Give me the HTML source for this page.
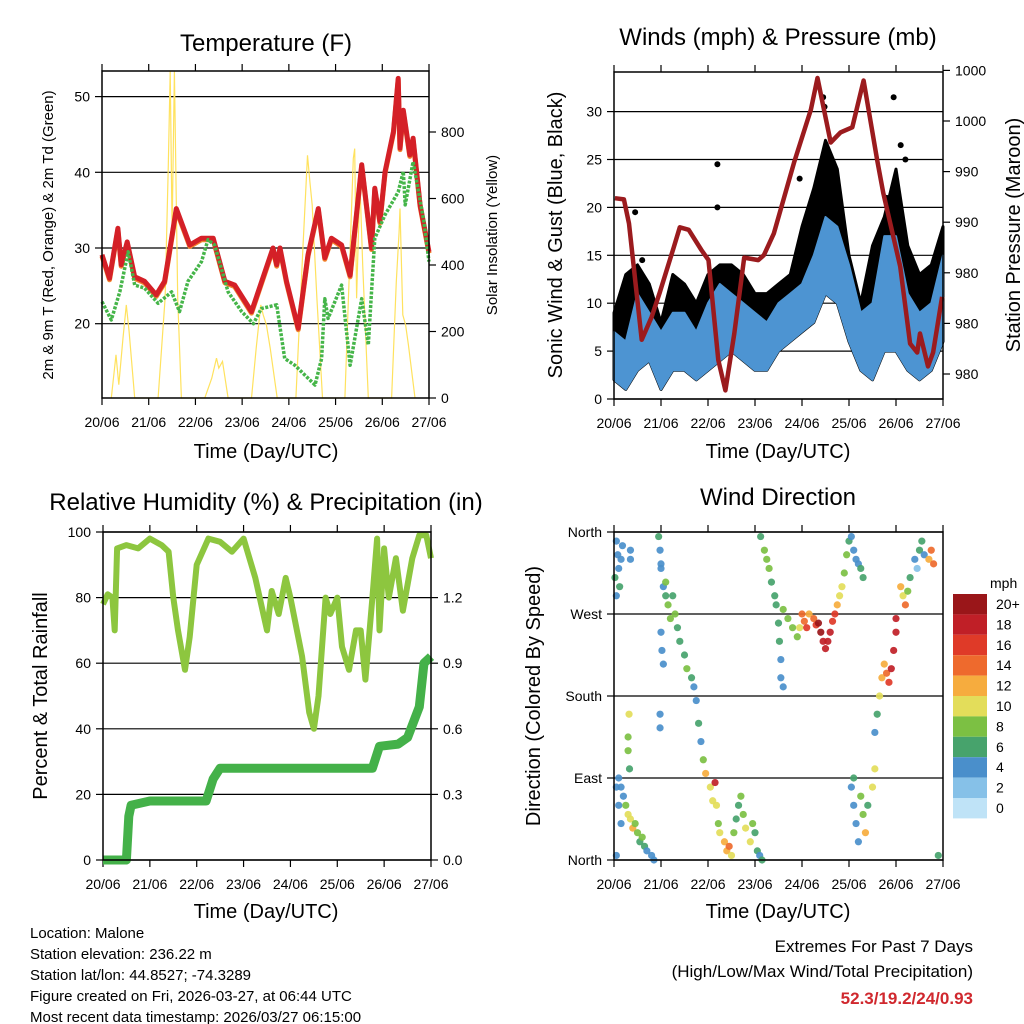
<!DOCTYPE html>
<html><head><meta charset="utf-8"><style>
html,body{margin:0;padding:0;background:#fff;}
svg{display:block;font-family:"Liberation Sans",Arial,sans-serif;}
</style></head><body>
<svg id="svg" width="1024" height="1024" viewBox="0 0 1024 1024" xmlns="http://www.w3.org/2000/svg">
<rect width="1024" height="1024" fill="#fff"/>
<text x="266" y="51" font-size="24" text-anchor="middle">Temperature (F)</text>
<text x="778" y="45" font-size="24" text-anchor="middle">Winds (mph) &amp; Pressure (mb)</text>
<text x="266" y="510" font-size="24" text-anchor="middle">Relative Humidity (%) &amp; Precipitation (in)</text>
<text x="778" y="505" font-size="24" text-anchor="middle">Wind Direction</text>
<text x="266" y="458" font-size="20" text-anchor="middle">Time (Day/UTC)</text>
<text x="778" y="458" font-size="20" text-anchor="middle">Time (Day/UTC)</text>
<text x="266" y="918" font-size="20" text-anchor="middle">Time (Day/UTC)</text>
<text x="778" y="918" font-size="20" text-anchor="middle">Time (Day/UTC)</text>
<text transform="translate(53,235) rotate(-90)" font-size="15" text-anchor="middle">2m &amp; 9m T (Red, Orange) &amp; 2m Td (Green)</text>
<text transform="translate(497,235) rotate(-90)" font-size="15" text-anchor="middle">Solar Insolation (Yellow)</text>
<text transform="translate(562,235) rotate(-90)" font-size="20" text-anchor="middle">Sonic Wind &amp; Gust (Blue, Black)</text>
<text transform="translate(1020,235) rotate(-90)" font-size="20" text-anchor="middle">Station Pressure (Maroon)</text>
<text transform="translate(47,696) rotate(-90)" font-size="20" text-anchor="middle">Percent &amp; Total Rainfall</text>
<text transform="translate(540,696) rotate(-90)" font-size="20" text-anchor="middle">Direction (Colored By Speed)</text>
<g font-size="15">
<text x="30" y="938">Location: Malone</text>
<text x="30" y="959">Station elevation: 236.22 m</text>
<text x="30" y="980">Station lat/lon: 44.8527; -74.3289</text>
<text x="30" y="1001">Figure created on Fri, 2026-03-27, at 06:44 UTC</text>
<text x="30" y="1022">Most recent data timestamp: 2026/03/27 06:15:00</text>
</g>
<text x="973" y="952" font-size="17" text-anchor="end">Extremes For Past 7 Days</text>
<text x="973" y="977" font-size="17" text-anchor="end">(High/Low/Max Wind/Total Precipitation)</text>
<text x="973" y="1004" font-size="17" font-weight="bold" fill="#d0282e" text-anchor="end">52.3/19.2/24/0.93</text>
</svg>
<script>
// ---------- data ----------
const dayLabels=["20/06","21/06","22/06","23/06","24/06","25/06","26/06","27/06"];
const tempTicks=[20,30,40,50];
const solarTicks=[0,200,400,600,800];
const tempT=[0,0.16,0.34,0.41,0.54,0.7,0.91,1.16,1.34,1.49,1.59,1.88,2.13,2.38,2.63,2.84,3.2,3.66,3.74,3.81,3.95,4.2,4.41,4.63,4.77,4.91,5.13,5.31,5.56,5.77,5.84,5.95,6.06,6.24,6.34,6.38,6.45,6.59,6.66,6.81,7.0];
const tempV=[29.1,26.0,32.6,27.8,30.8,26.2,25.6,23.8,25.6,31.3,35.2,30.4,31.3,31.3,25.6,25.1,21.6,30.0,27.8,30.0,25.6,19.4,29.1,35.2,28.7,31.3,30.4,26.4,41.0,30.0,37.9,33.5,40.1,45.4,52.4,43.2,48.2,42.3,44.5,35.7,29.5];
const dewT=[0,0.2,0.38,0.56,0.7,0.91,1.2,1.49,1.66,1.84,2.13,2.27,2.41,2.7,2.99,3.24,3.41,3.74,3.91,4.13,4.56,4.7,4.77,4.84,5.13,5.31,5.56,5.7,5.84,6.06,6.34,6.45,6.49,6.66,6.89,7.0];
const dewV=[22.9,20.5,24.2,29.5,25.1,24.7,22.7,24.2,21.6,25.6,28.2,31.1,30.4,24.2,21.6,20.0,22.0,22.5,15.4,14.5,11.9,15.4,23.3,20.7,25.1,14.5,23.3,17.2,31.3,34.4,37.4,40.1,35.7,41.4,33.5,28.2];
const solarT=[0.2,0.3,0.36,0.45,0.52,0.58,0.7,1.2,1.35,1.42,1.46,1.5,1.55,1.62,1.7,2.2,2.35,2.45,2.5,2.58,2.7,3.2,3.3,3.4,3.45,3.52,3.6,3.75,4.15,4.3,4.4,4.45,4.5,4.6,4.72,5.2,5.3,5.38,5.41,5.45,5.52,5.58,5.7,6.2,6.3,6.36,6.38,6.44,6.5,6.56,6.7];
const solarV=[0,130,40,180,280,200,0,0,300,700,990,500,990,300,0,0,60,120,90,110,0,0,150,280,250,220,150,0,0,450,730,650,580,300,0,0,400,720,750,300,650,400,0,0,350,500,570,250,220,160,0];
const speedTicks=[0,5,10,15,20,25,30];
const presTicks=[975.5,979.5,983.5,987.5,991.5,995.5,999.5];
const presLabels=["980","980","980","990","990","1000","1000"];
const presT=[0.02,0.21,0.32,0.42,0.59,0.8,0.97,1.27,1.4,1.59,1.86,2.01,2.22,2.37,2.56,2.77,3.07,3.19,3.4,3.83,4.19,4.33,4.61,4.82,5.07,5.31,5.6,5.73,6.09,6.3,6.45,6.51,6.68,6.79,6.98];
const presV=[989.4,989.3,987.4,984.0,978.2,980.0,981.9,985.5,987.1,986.9,985.3,984.5,976.6,974.2,978.7,984.7,984.5,984.9,986.6,992.2,996.4,998.9,993.8,994.6,995.0,998.7,992.4,989.8,984.0,977.9,977.2,978.7,976.1,977.2,981.6];
const windT=[0,0.25,0.5,0.75,1,1.25,1.5,1.75,2,2.25,2.5,2.75,3,3.25,3.5,3.75,4,4.25,4.5,4.75,5,5.25,5.5,5.75,6,6.25,6.5,6.75,7];
const windHi=[7,6,11,9,7,9,9,7,10,12,11,10,9,8,10,11,12,15,19,18,14,9,10,17,17,11,9,10,15];
const windLo=[2,1,3,4,1,3,3,2,3,4,5,4,3,3,5,6,7,8,11,10,6,3,2,5,5,3,2,3,6];
const gustHi=[9,13,14,12,8,13,12,10,13,14,14,13,11,11,12,13,18,22,27,24,15,10,16,19,24,16,13,14,18];
const gustOutT=[0.45,0.6,2.2,2.2,4.45,4.48,5.95,5.8,6.1,3.95,6.2,2.3];
const gustOutV=[19.5,14.5,24.5,20,31.5,30.5,31.5,21,26.5,23,25,11];
const rhTicks=[0,20,40,60,80,100];
const rainTicks=[0.0,0.3,0.6,0.9,1.2];
const rhT=[0,0.1,0.2,0.25,0.3,0.5,0.75,1.0,1.25,1.4,1.5,1.6,1.75,1.85,2.0,2.25,2.5,2.75,3.0,3.25,3.5,3.6,3.75,3.9,4.0,4.25,4.4,4.5,4.6,4.75,4.85,5.0,5.1,5.25,5.4,5.5,5.6,5.75,5.85,5.9,6.0,6.1,6.25,6.4,6.6,6.75,6.9,7.0];
const rhV=[78,81,80,70,95,96,95,98,96,94,80,70,58,68,90,98,97,94,98,86,70,82,75,86,80,62,45,40,50,80,75,80,65,58,70,70,55,80,98,70,95,80,92,76,92,99,99,92];
const rainT=[0,0.5,0.55,0.6,1.0,2.2,2.35,2.5,5.75,5.9,6.3,6.5,6.75,6.85,7.0];
const rainV=[0,0,0.2,0.25,0.27,0.27,0.37,0.42,0.42,0.52,0.53,0.56,0.7,0.9,0.93];
const dirLabels=["North","East","South","West","North"];
const dirTicks=[0,90,180,270,360];
const dirT=[0.05,0.08,0.1,0.12,0.05,0.15,0.02,0.18,0.35,0.35,0.95,0.98,1.0,1.0,1.05,1.1,1.15,1.2,1.3,1.35,1.4,1.5,1.55,1.65,1.7,1.0,1.02,1.05,1.1,1.25,1.75,1.8,1.85,1.9,1.95,2.05,2.1,2.15,2.18,2.22,0.98,0.98,2.25,2.35,2.4,2.5,2.55,2.6,2.65,2.7,2.45,2.75,2.8,2.9,2.95,3.0,3.05,3.1,3.15,0.1,0.15,0.2,0.25,0.3,0.35,0.4,0.45,0.5,0.55,0.6,0.65,0.7,0.8,0.85,0.05,0.3,0.32,0.3,0.33,0.05,0.1,0.15,3.12,3.2,3.25,3.3,3.35,3.42,3.45,3.5,3.52,3.55,3.55,3.6,3.6,3.7,3.8,3.9,3.95,4.0,4.05,4.1,4.15,4.25,4.3,4.35,4.4,4.45,4.5,4.55,4.6,4.65,4.7,4.75,4.8,4.85,4.9,4.95,5.0,5.05,5.1,5.15,5.2,5.25,5.3,5.05,5.1,5.15,5.2,5.25,5.3,5.35,5.4,5.5,5.55,5.1,5.55,5.6,5.65,5.7,5.75,5.8,5.85,5.9,5.95,6.0,6.0,6.1,6.15,6.2,6.25,6.3,6.4,6.45,6.5,6.55,6.6,6.7,6.75,6.8,6.9];
const dirV=[350,335,320,300,290,330,310,345,330,340,355,340,325,320,300,290,280,265,270,255,240,225,210,200,190,250,230,215,305,290,175,150,130,110,95,80,65,85,60,40,160,145,30,20,10,5,30,45,60,70,15,50,35,20,40,30,10,5,0,90,80,70,60,50,45,35,40,30,20,25,15,10,5,0,5,135,160,120,100,80,60,40,355,340,330,320,305,290,280,260,240,220,200,190,275,265,255,245,255,270,262,255,270,265,258,260,250,240,232,240,250,262,270,280,290,300,315,335,350,355,340,330,325,320,310,80,60,40,20,70,50,30,60,80,100,90,140,160,180,200,215,205,195,210,230,250,265,300,290,280,295,310,330,320,340,350,335,330,340,325,5];
const dirS=[4,4,4,5,3,4,6,3,4,3,6,4,4,4,3,6,7,8,7,6,5,6,7,5,4,4,4,3,7,6,4,6,4,8,12,10,9,17,10,8,4,3,10,12,11,9,8,6,6,7,13,8,10,10,7,6,5,4,6,4,4,3,8,10,9,12,7,8,6,7,5,4,3,4,3,7,10,8,6,4,3,4,6,8,8,7,6,6,5,6,5,4,4,3,8,8,8,8,10,13,14,15,12,14,16,20,20,18,18,17,17,16,15,12,10,9,8,8,6,4,4,3,4,6,6,4,4,4,3,8,7,12,6,9,10,5,4,5,10,12,11,13,16,18,17,18,18,12,10,14,7,5,4,2,6,5,4,12,14,13,6];
const speedBins=["0","2","4","6","8","10","12","14","16","18","20+"];
const binColors=["#bfe3f7","#86c1e8","#4a8fcb","#47a36c","#7cc043","#e3dd5a","#f6ac3e","#ee6a2d","#df3a28","#c01f27","#9a1619"];

// ---------- helpers ----------
const NS="http://www.w3.org/2000/svg";
const svg=document.getElementById('svg');
function el(tag,attrs,parent){const e=document.createElementNS(NS,tag);for(const k in attrs)e.setAttribute(k,attrs[k]);(parent||svg).appendChild(e);return e;}
function xs(P){return d=>P.x0+(P.x1-P.x0)*d/7;}
function pathOf(T,V,fx,fy){return T.map((t,i)=>(i?'L':'M')+fx(t).toFixed(1)+','+fy(V[i]).toFixed(1)).join('');}
function frame(P,name){
  const g=el('g',{});
  
  
  const fx=xs(P);
  dayLabels.forEach((lab,i)=>{
    const x=fx(i);
    const tb=el('line',{x1:x,x2:x,y1:P.y1,y2:P.y1+7,stroke:'#000','stroke-width':1.2},g);
    
    
    const tt=el('line',{x1:x,x2:x,y1:P.y0,y2:P.y0-7,stroke:'#000','stroke-width':1.2},g);
    
    
    const t=el('text',{x:x,y:P.y1+29,'font-size':14,'text-anchor':'middle'},g);
    t.textContent=lab;
    
    
  });
  return g;
}
function border(P,name){
  const r=el('rect',{x:P.x0,y:P.y0,width:P.x1-P.x0,height:P.y1-P.y0,fill:'none',stroke:'#000','stroke-width':1.5});
  
  
}
function yAxis(P,ticks,labels,fy,side,name,grid){
  ticks.forEach((v,i)=>{
    const y=fy(v);
    if(grid){
      const gl=el('line',{x1:P.x0,x2:P.x1,y1:y,y2:y,stroke:'#000','stroke-width':1.2});
      
      
    }
    const xa=side==='L'?P.x0:P.x1;
    const tk=el('line',{x1:xa,x2:side==='L'?xa-7:xa+7,y1:y,y2:y,stroke:'#000','stroke-width':1.2});
    
    
    const t=el('text',{x:side==='L'?xa-12:xa+12,y:y+5,'font-size':14,'text-anchor':side==='L'?'end':'start'});
    t.textContent=labels[i];
    
    
  });
}

// ---------- panel 1: temperature ----------
const P1={x0:102,x1:429,y0:71,y1:398};
const fx1=xs(P1);
const fyT=v=>248-(v-30)*7.57;
const fyS=v=>398-v*0.3325;
frame(P1,'temperature');
yAxis(P1,tempTicks,tempTicks.map(String),fyT,'L','temp-y',true);
yAxis(P1,solarTicks,solarTicks.map(String),fyS,'R','solar-y',false);
const solar=el('path',{d:pathOf(solarT,solarV,fx1,v=>Math.max(P1.y0,fyS(v))),fill:'none',stroke:'#ffe25e','stroke-width':1.2});


const t9=el('path',{d:pathOf(tempT,tempV,fx1,v=>fyT(v)+1.5),fill:'none',stroke:'#f2852f','stroke-width':5,'stroke-linejoin':'round'});


const t2=el('path',{d:pathOf(tempT,tempV,fx1,fyT),fill:'none',stroke:'#d42027','stroke-width':5,'stroke-linejoin':'round'});


const td=el('path',{d:pathOf(dewT,dewV,fx1,fyT),fill:'none',stroke:'#45b549','stroke-width':3.5,'stroke-dasharray':'3 1.5','stroke-linejoin':'round'});


border(P1,'temperature');

// ---------- panel 2: winds ----------
const P2={x0:614,x1:943,y0:72,y1:399};
const fx2=xs(P2);
const fyW=v=>399-v*9.58;
const fyP=v=>374-(v-975.5)*12.65;
frame(P2,'winds');
yAxis(P2,speedTicks,speedTicks.map(String),fyW,'L','speed-y',true);
yAxis(P2,presTicks,presLabels,fyP,'R','pressure-y',false);
let gd=windT.map((t,i)=>(i?'L':'M')+fx2(t).toFixed(1)+','+fyW(gustHi[i]).toFixed(1)).join('');
for(let i=windT.length-1;i>=0;i--)gd+='L'+fx2(windT[i]).toFixed(1)+','+fyW(windLo[i]).toFixed(1);
const gust=el('path',{d:gd+'Z',fill:'#000',stroke:'#000','stroke-width':3,'stroke-linejoin':'round'});


gustOutT.forEach((t,i)=>{
  const c=el('circle',{cx:fx2(t),cy:fyW(gustOutV[i]),r:3,fill:'#000'});
  
  
});
let bd=windT.map((t,i)=>(i?'L':'M')+fx2(t).toFixed(1)+','+fyW(windHi[i]).toFixed(1)).join('');
for(let i=windT.length-1;i>=0;i--)bd+='L'+fx2(windT[i]).toFixed(1)+','+fyW(windLo[i]).toFixed(1);
const wind=el('path',{d:bd+'Z',fill:'#4d94d2',stroke:'#4d94d2','stroke-width':2,'stroke-linejoin':'round'});


const pres=el('path',{d:pathOf(presT,presV,fx2,fyP),fill:'none',stroke:'#9b1b1e','stroke-width':4.5,'stroke-linejoin':'round'});


border(P2,'winds');

// ---------- panel 3: RH & precip ----------
const P3={x0:103,x1:431,y0:532,y1:860};
const fx3=xs(P3);
const fyR=v=>860-v*3.28;
const fyRain=v=>860-v/0.3*65.6;
frame(P3,'humidity');
yAxis(P3,rhTicks,rhTicks.map(String),fyR,'L','rh-y',true);
yAxis(P3,rainTicks,rainTicks.map(v=>v.toFixed(1)),fyRain,'R','rain-y',false);
const rh=el('path',{d:pathOf(rhT,rhV,fx3,fyR),fill:'none',stroke:'#8dc63f','stroke-width':6,'stroke-linejoin':'round'});


const rain=el('path',{d:pathOf(rainT,rainV,fx3,fyRain),fill:'none',stroke:'#44b149','stroke-width':9,'stroke-linejoin':'round'});


border(P3,'humidity');

// ---------- panel 4: wind direction ----------
const P4={x0:614,x1:943,y0:532,y1:860};
const fx4=xs(P4);
const fyD=v=>860-v/360*328;
frame(P4,'direction');
yAxis(P4,dirTicks,dirLabels,fyD,'L','dir-y',true);
dirT.forEach((t,i)=>{
  const b=Math.min(10,Math.round(dirS[i]/2));
  const c=el('circle',{cx:fx4(t),cy:fyD(dirV[i]),r:3.6,fill:binColors[b],'fill-opacity':0.92});
  
  
});
border(P4,'direction');

// colorbar legend
const lt=el('text',{x:990,y:588,'font-size':14});
lt.textContent='mph';


speedBins.forEach((lab,i)=>{
  const k=speedBins.length-1-i;
  const y=594+i*20.4;
  const r=el('rect',{x:953,y:y,width:34,height:20.4,fill:binColors[k]});
  
  
  const t=el('text',{x:996,y:y+15,'font-size':14});
  t.textContent=speedBins[k];
  
  
});
</script>
</body></html>
